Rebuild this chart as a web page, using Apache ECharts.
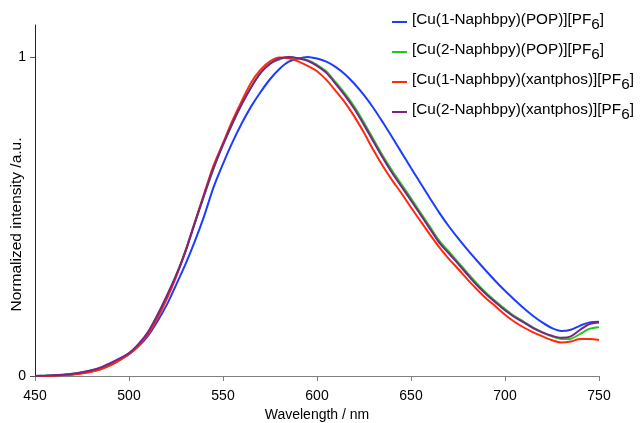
<!DOCTYPE html>
<html>
<head>
<meta charset="utf-8">
<script src="https://cdn.jsdelivr.net/npm/echarts@6/dist/echarts.min.js"></script>
<style>html,body{margin:0;padding:0;background:#fff;}#c{width:643px;height:423px;}</style>
</head>
<body>
<div id="c"></div>
<script>
var wavelengths = [450,455,460,465,470,475,480,485,490,495,500,505,510,515,520,525,530,535,540,545,550,555,560,565,570,575,580,585,590,595,600,605,610,615,620,625,630,635,640,645,650,655,660,665,670,675,680,685,690,695,700,705,710,715,720,725,730,735,740,745,750];

var cu1Pop = [0.000,0.000,0.001,0.003,0.005,0.009,0.014,0.022,0.034,0.050,0.068,0.093,0.125,0.170,0.222,0.285,0.350,0.422,0.502,0.592,0.665,0.732,0.792,0.845,0.890,0.930,0.962,0.985,0.995,1.000,0.995,0.985,0.968,0.945,0.915,0.880,0.840,0.795,0.748,0.700,0.652,0.605,0.558,0.512,0.470,0.432,0.396,0.362,0.329,0.297,0.267,0.239,0.212,0.188,0.167,0.150,0.141,0.145,0.158,0.168,0.170];

var cu2Pop = [0.000,0.001,0.002,0.004,0.007,0.011,0.017,0.026,0.038,0.053,0.070,0.098,0.135,0.188,0.248,0.314,0.390,0.478,0.566,0.650,0.724,0.790,0.852,0.906,0.950,0.980,0.992,1.000,0.995,0.990,0.975,0.954,0.920,0.884,0.843,0.794,0.742,0.690,0.643,0.600,0.557,0.512,0.468,0.424,0.391,0.357,0.323,0.290,0.260,0.234,0.210,0.188,0.170,0.152,0.137,0.124,0.116,0.117,0.132,0.148,0.153];

var cu1Xant = [0.000,0.000,0.001,0.003,0.005,0.008,0.013,0.021,0.033,0.050,0.068,0.095,0.130,0.180,0.240,0.310,0.392,0.482,0.572,0.660,0.730,0.800,0.862,0.920,0.960,0.986,0.998,0.996,0.986,0.972,0.955,0.928,0.893,0.856,0.812,0.762,0.708,0.658,0.613,0.572,0.528,0.486,0.444,0.404,0.368,0.336,0.303,0.272,0.243,0.218,0.192,0.170,0.152,0.137,0.124,0.112,0.105,0.108,0.116,0.116,0.113];

var cu2Xant = [0.000,0.001,0.002,0.004,0.007,0.012,0.018,0.027,0.040,0.055,0.072,0.100,0.137,0.190,0.250,0.315,0.390,0.480,0.568,0.652,0.725,0.792,0.852,0.905,0.950,0.978,0.995,1.000,0.996,0.988,0.972,0.950,0.915,0.878,0.836,0.787,0.735,0.684,0.636,0.593,0.550,0.506,0.462,0.418,0.385,0.352,0.318,0.285,0.256,0.230,0.206,0.185,0.168,0.150,0.136,0.126,0.120,0.124,0.145,0.163,0.168];

var seriesNames = ['[Cu(1-Naphbpy)(POP)][PF6]','[Cu(2-Naphbpy)(POP)][PF6]','[Cu(1-Naphbpy)(xantphos)][PF6]','[Cu(2-Naphbpy)(xantphos)][PF6]'];
var xTicks = [450,500,550,600,650,700,750];
var yTicks = [0,1];

var colors = ['#1e3cff','#22c922','#ff2a0a','#7b2387'];
var allData = [cu1Pop, cu2Pop, cu1Xant, cu2Xant];

function pairs(v){ return wavelengths.map(function(w,i){ return [w, v[i]]; }); }

var chart = echarts.init(document.getElementById('c'), null, {renderer:'canvas'});
var FONT = 'Liberation Sans, Arial, sans-serif';
chart.setOption({
  animation:false,
  backgroundColor:'#fff',
  textStyle:{fontFamily:FONT},
  grid:{left:35, right:44, top:25, bottom:47, containLabel:false, outerBoundsMode:'none'},
  legend:{
    orient:'vertical', left:387, top:5, itemGap:8,
    itemWidth:15, itemHeight:2, icon:'rect',
    data: seriesNames,
    formatter:function(n){ return '{a|' + n.slice(0, n.length-2) + '}{s|6}{a|]}'; },
    textStyle:{
      fontFamily:FONT, color:'#000', fontSize:15.3,
      rich:{
        a:{fontFamily:FONT, fontSize:15.3, color:'#000', lineHeight:20, verticalAlign:'top'},
        s:{fontFamily:FONT, fontSize:15.3, color:'#000', lineHeight:20, verticalAlign:'bottom', padding:[7,0,0,0]}
      }
    }
  },
  xAxis:{
    type:'value', min:450, max:750, interval:50,
    name:'Wavelength / nm', nameLocation:'middle', nameGap:32, nameMoveOverlap:false,
    nameTextStyle:{fontFamily:FONT, fontSize:14, color:'#000'},
    axisLine:{onZero:false, lineStyle:{color:'#808080', width:1}},
    axisTick:{show:true, length:5, lineStyle:{color:'#808080'}},
    axisLabel:{fontFamily:FONT, fontSize:14, color:'#000', margin:13,
      customValues: xTicks},
    splitLine:{show:false}
  },
  yAxis:{
    type:'value', min:0, max:1.1,
    name:'Normalized intensity /a.u.', nameLocation:'middle', nameGap:10, nameMoveOverlap:false,
    nameTextStyle:{fontFamily:FONT, fontSize:15.5, color:'#000', padding:[0,48,0,0]},
    axisLine:{show:true, lineStyle:{color:'#222', width:1}},
    axisTick:{show:true, length:5, customValues: yTicks, lineStyle:{color:'#555'}},
    axisLabel:{fontFamily:FONT, fontSize:14, color:'#000', margin:9, customValues: yTicks},
    splitLine:{show:false}
  },
  series: allData.map(function(d, k){
    return {
      name: seriesNames[k], type:'line', data: pairs(d),
      symbol:'none', showSymbol:false, smooth:0.3,
      lineStyle:{color:colors[k], width:2}, itemStyle:{color:colors[k]}
    };
  })
});
</script>
</body>
</html>
